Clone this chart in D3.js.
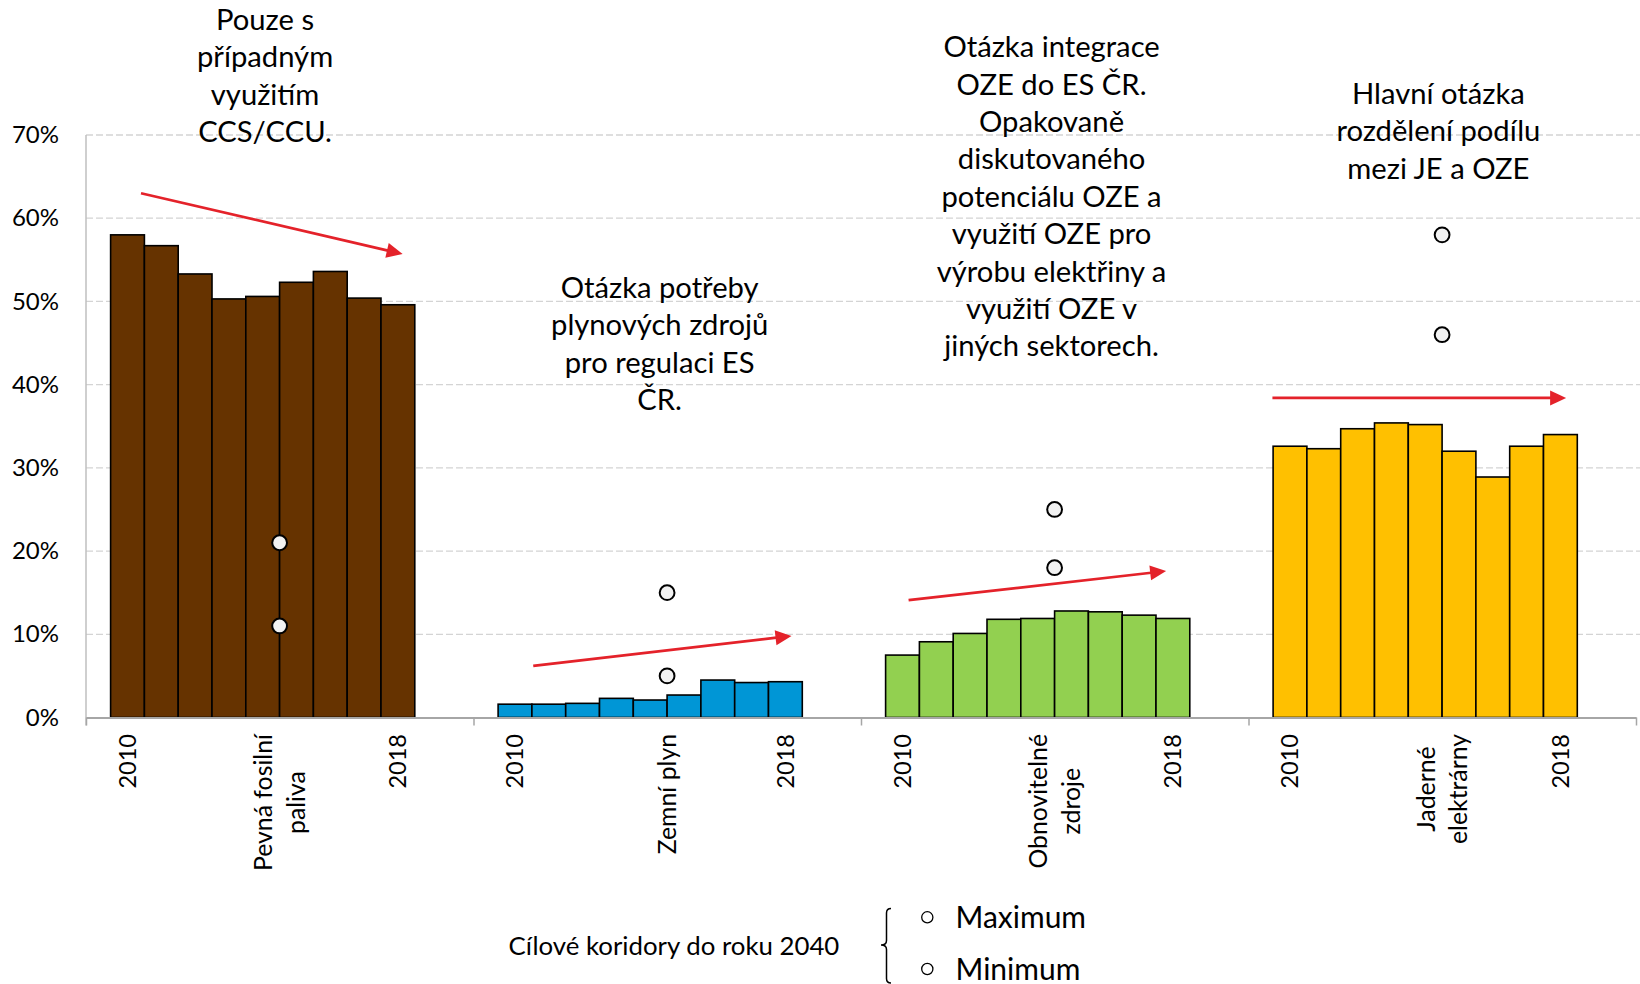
<!DOCTYPE html>
<html>
<head>
<meta charset="utf-8">
<script src="https://cdn.jsdelivr.net/npm/d3@7"></script>
<style>
  html, body { margin: 0; padding: 0; background: #ffffff; }
  svg { display: block; }
  text { font-family: Lato, "Open Sans", "Noto Sans", sans-serif; fill: #000; }
</style>
</head>
<body>
<svg id="chart" width="1640" height="984"></svg>
<script>
// ---------------- DATA ----------------
const categories = ["Pevná fosilní paliva", "Zemní plyn", "Obnovitelné zdroje", "Jaderné elektrárny"];
const categoryLabelLines = [["Pevná fosilní", "paliva"], ["Zemní plyn"], ["Obnovitelné", "zdroje"], ["Jaderné", "elektrárny"]];
const years = [2010, 2011, 2012, 2013, 2014, 2015, 2016, 2017, 2018];
const yearTickLabels = ["2010", "2018"];

// share of electricity production, %
const solidFuels  = [58.0, 56.7, 53.3, 50.3, 50.6, 52.3, 53.6, 50.4, 49.6];
const naturalGas  = [1.6, 1.6, 1.7, 2.3, 2.1, 2.7, 4.5, 4.2, 4.3];
const renewables  = [7.5, 9.1, 10.1, 11.8, 11.9, 12.8, 12.7, 12.3, 11.9];
const nuclear     = [32.6, 32.3, 34.7, 35.4, 35.2, 32.0, 28.9, 32.6, 34.0];

// target corridors for 2040, %
const target2040Max = [21, 15, 25, 58];
const target2040Min = [11, 5, 18, 46];

// trend arrows (start / end value, %)
const trendStart = [63.0, 6.2, 14.1, 38.4];
const trendEnd   = [55.7, 9.8, 17.6, 38.4];

const yTicks = [0, 10, 20, 30, 40, 50, 60, 70];

const annotationTexts = [
  ["Pouze s", "případným", "využitím", "CCS/CCU."],
  ["Otázka potřeby", "plynových zdrojů", "pro regulaci ES", "ČR."],
  ["Otázka integrace", "OZE do ES ČR.", "Opakovaně", "diskutovaného", "potenciálu OZE a", "využití OZE pro", "výrobu elektřiny a", "využití OZE v", "jiných sektorech."],
  ["Hlavní otázka", "rozdělení podílu", "mezi JE a OZE"]
];

const legendTitle = "Cílové koridory do roku 2040";
const legendItems = ["Maximum", "Minimum"];

// ---------------- STYLE / LAYOUT ----------------
const seriesValues = [solidFuels, naturalGas, renewables, nuclear];
const seriesColors = ["#663300", "#0096d6", "#92d050", "#ffc000"];
const arrowColor = "#e4222a";

const plotLeft = 86, plotRight = 1636, plotTop = 135, plotBottom = 717.5;
const slotsPerCategory = 11.465;   // category width in bar-widths
const barOffsetSlots = 0.728;      // empty space before the first bar
const markerSlot = 5;              // circles / category label position
const arrowStartSlot = [0.9, 1.04, 0.68, -0.02];
const arrowEndSlot = [8.64, 8.68, 8.3, 8.67];
const annotationSlot = [4.57, 4.78, 4.91, 4.89];
const annotationFirstBaseline = [29.8, 297.8, 57.2, 103.8];
const annotationLineHeight = 37.4;

const svg = d3.select("#chart");

const xCat = d3.scaleBand().domain(categories).range([plotLeft, plotRight]).padding(0);
const slotW = xCat.bandwidth() / slotsPerCategory;
const slotX = (ci, s) => xCat(categories[ci]) + (barOffsetSlots + s) * slotW;
const y = d3.scaleLinear().domain([0, 70]).range([plotBottom, plotTop]);

// gridlines
svg.append("g").selectAll("line")
  .data(yTicks.filter(d => d > 0))
  .join("line")
  .attr("x1", plotLeft).attr("x2", 1640)
  .attr("y1", d => y(d)).attr("y2", d => y(d))
  .attr("stroke", "#d4d4d4").attr("stroke-width", 1.3)
  .attr("stroke-dasharray", "7,3");

// y axis
const yAxis = svg.append("g")
  .attr("transform", `translate(${plotLeft},0)`)
  .call(d3.axisLeft(y).tickValues(yTicks).tickFormat(d => d + "%").tickSize(0).tickSizeOuter(0).tickPadding(27));
yAxis.select(".domain").attr("stroke", "#bfbfbf").attr("stroke-width", 1.5)
  .attr("d", `M0,${plotTop}V${plotBottom + 8}`);
yAxis.selectAll("text").attr("font-size", 24).attr("font-family", "Lato").attr("fill", "#000");

// bars
seriesValues.forEach((vals, ci) => {
  const xb = d3.scaleBand().domain(years).range([slotX(ci, 0), slotX(ci, years.length)]).padding(0);
  svg.append("g").selectAll("rect")
    .data(vals)
    .join("rect")
    .attr("x", (d, i) => xb(years[i]))
    .attr("width", xb.bandwidth())
    .attr("y", d => y(d))
    .attr("height", d => y(0) - y(d))
    .attr("fill", seriesColors[ci])
    .attr("stroke", "#000")
    .attr("stroke-width", 1.6);
});

// x axis (category boundaries)
const xBound = d3.scaleLinear().domain([0, categories.length]).range([plotLeft, plotRight]);
const xAxis = svg.append("g")
  .attr("transform", `translate(0,${plotBottom})`)
  .call(d3.axisBottom(xBound).tickValues(d3.range(categories.length + 1)).tickFormat("").tickSize(8).tickSizeOuter(0));
xAxis.select(".domain").attr("stroke", "#a6a6a6").attr("stroke-width", 2);
xAxis.selectAll(".tick line").attr("stroke", "#a6a6a6").attr("stroke-width", 1.5);

// year tick labels (first & last year of each group)
const labelTop = 734;
categories.forEach((c, ci) => {
  const xb = d3.scaleBand().domain(years).range([slotX(ci, 0), slotX(ci, years.length)]).padding(0);
  [years[0], years[years.length - 1]].forEach((yr, k) => {
    svg.append("text")
      .attr("transform", `translate(${xb(yr) + xb.bandwidth() / 2},${labelTop}) rotate(-90)`)
      .attr("text-anchor", "end")
      .attr("dy", "0.36em")
      .attr("font-size", 23.5)
      .text(yearTickLabels[k]);
  });
});

// category labels (rotated, multi-line, centered lines)
const catLineH = 32.4;
categoryLabelLines.forEach((lines, ci) => {
  const g = svg.append("g");
  const t = g.append("text").attr("font-size", 24.8).attr("text-anchor", "middle");
  lines.forEach((ln, i) => {
    t.append("tspan").attr("x", 0)
      .attr("y", (i - (lines.length - 1) / 2) * catLineH)
      .attr("dy", "0.36em").text(ln);
  });
  let maxW = 0;
  t.selectAll("tspan").each(function () { maxW = Math.max(maxW, this.getComputedTextLength()); });
  g.attr("transform", `translate(${slotX(ci, markerSlot)},${labelTop + maxW / 2}) rotate(-90)`);
});

// target markers
const markerData = [];
categories.forEach((c, ci) => {
  markerData.push({ ci, v: target2040Max[ci] });
  markerData.push({ ci, v: target2040Min[ci] });
});
svg.append("g").selectAll("circle")
  .data(markerData)
  .join("circle")
  .attr("cx", d => slotX(d.ci, markerSlot))
  .attr("cy", d => y(d.v))
  .attr("r", 7.4)
  .attr("fill", "#f2f2f2")
  .attr("stroke", "#000")
  .attr("stroke-width", 2);

// trend arrows
categories.forEach((c, ci) => {
  const x1 = slotX(ci, arrowStartSlot[ci]), y1 = y(trendStart[ci]);
  const x2 = slotX(ci, arrowEndSlot[ci]), y2 = y(trendEnd[ci]);
  const ang = Math.atan2(y2 - y1, x2 - x1);
  const headL = 16, headW = 7.5;
  const bx = x2 - headL * Math.cos(ang), by = y2 - headL * Math.sin(ang);
  svg.append("line")
    .attr("x1", x1).attr("y1", y1).attr("x2", bx + Math.cos(ang)).attr("y2", by + Math.sin(ang))
    .attr("stroke", arrowColor).attr("stroke-width", 2.7);
  const px = -Math.sin(ang), py = Math.cos(ang);
  svg.append("path")
    .attr("d", `M${x2},${y2}L${bx + px * headW},${by + py * headW}L${bx - px * headW},${by - py * headW}Z`)
    .attr("fill", arrowColor);
});

// annotations
annotationTexts.forEach((lines, ci) => {
  const t = svg.append("text").attr("font-size", 29.2).attr("text-anchor", "middle");
  lines.forEach((ln, i) => {
    t.append("tspan")
      .attr("x", slotX(ci, annotationSlot[ci]))
      .attr("y", annotationFirstBaseline[ci] + i * annotationLineHeight)
      .text(ln);
  });
});

// legend
svg.append("text").attr("x", 508.5).attr("y", 955).attr("font-size", 25.8).text(legendTitle);
svg.append("path")
  .attr("d", "M891,908.5 Q886.5,908.5 886.5,913 L886.5,940.5 Q886.5,945 881,945 Q886.5,945 886.5,949.5 L886.5,978.5 Q886.5,983 891,983")
  .attr("fill", "none").attr("stroke", "#000").attr("stroke-width", 1.5);
const legendY = [917.3, 969];
legendItems.forEach((name, i) => {
  svg.append("circle").attr("cx", 927.3).attr("cy", legendY[i]).attr("r", 5.6)
    .attr("fill", "#fff").attr("stroke", "#000").attr("stroke-width", 1.3);
  svg.append("text").attr("x", 955.5).attr("y", legendY[i] + 10.5).attr("font-size", 30).text(name);
});
</script>
</body>
</html>
